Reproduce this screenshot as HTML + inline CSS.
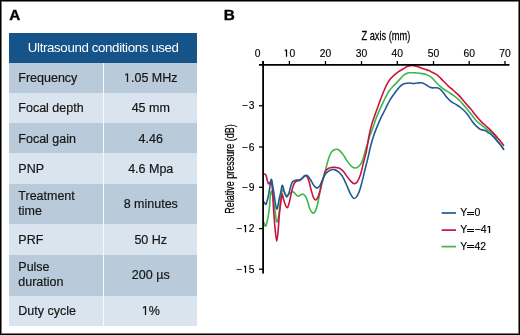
<!DOCTYPE html>
<html><head><meta charset="utf-8"><style>
*{margin:0;padding:0;box-sizing:border-box}
html,body{width:520px;height:335px;overflow:hidden;background:#fff}
body{position:relative;font-family:"Liberation Sans", sans-serif;}
.gs{position:absolute;left:0;top:0;width:520px;height:335px;will-change:transform}
.frame{position:absolute;left:0;top:0;width:520px;height:335px;border:1px solid #000;box-shadow:inset 0 0 0 1px #777;}
.frame2{position:absolute;right:0;bottom:0;width:520px;height:335px;border-right:2px solid #000;border-bottom:2px solid #000;}
.lab{position:absolute;font-weight:bold;font-size:15.3px;line-height:16px;color:#000;-webkit-text-stroke:0.35px #000}
.tbl{position:absolute;left:9px;top:33px;width:188px;height:292.6px}
.head{position:absolute;left:9px;top:33px;width:188px;height:29.6px;background:#165389;color:#fff;font-size:13.3px;line-height:29.6px;text-align:center;letter-spacing:-0.37px;text-indent:0.5px}
.row{position:absolute;left:9px;width:188px;font-size:12.5px;color:#161616;-webkit-text-stroke:0.2px #161616}
.lc{position:absolute;left:9.3px;top:0;bottom:0;display:flex;align-items:center;line-height:15px;padding-top:0.8px}
.rc{position:absolute;left:95.5px;right:0;top:0;bottom:0;display:flex;align-items:center;justify-content:center}
.sl{}
.sr{}
.vdiv{position:absolute;left:103.1px;top:62.6px;width:1.3px;height:263px;background:#f6f9fb}
svg{position:absolute;left:0;top:0}
.tk{font-family:"Liberation Sans", sans-serif;font-size:10.3px;fill:#000;stroke:#000;stroke-width:0.15px}
.ttl{font-family:"Liberation Sans", sans-serif;font-size:12.5px;fill:#000;stroke:#000;stroke-width:0.25px}
.one{fill:transparent;stroke:none}
.oneh{color:transparent;-webkit-text-stroke:0 transparent}
.lg{font-family:"Liberation Sans", sans-serif;font-size:10.5px;fill:#000;stroke:#000;stroke-width:0.15px}
</style></head><body>
<div class="gs">
<div class="lab" style="left:9.3px;top:7px">A</div>
<div class="lab" style="left:223.7px;top:7px">B</div>
<div class="head">Ultrasound conditions used</div>
<div class="row" style="top:62.6px;height:30.2px;background:#b9cbdb"><div class="lc" style="padding-top:2px"><span class="sl">Frequency</span></div><div class="rc" style="padding-top:0.7px"><span class="sr"><span class='oneh'>1</span>.05 MHz</span></div></div>
<div class="row" style="top:92.8px;height:30.2px;background:#dae4ee"><div class="lc" style="padding-top:2px"><span class="sl">Focal depth</span></div><div class="rc" style="padding-top:0.7px"><span class="sr">45 mm</span></div></div>
<div class="row" style="top:123.0px;height:30.4px;background:#b9cbdb"><div class="lc" style="padding-top:2px"><span class="sl">Focal gain</span></div><div class="rc" style="padding-top:0.7px"><span class="sr">4.46</span></div></div>
<div class="row" style="top:153.4px;height:30.3px;background:#dae4ee"><div class="lc" style="padding-top:2px"><span class="sl">PNP</span></div><div class="rc" style="padding-top:0.7px"><span class="sr">4.6 Mpa</span></div></div>
<div class="row" style="top:183.7px;height:40.7px;background:#b9cbdb"><div class="lc" style="padding-top:0.8px"><span class="sl">Treatment<br>time</span></div><div class="rc" style="padding-top:0.7px"><span class="sr">8 minutes</span></div></div>
<div class="row" style="top:224.4px;height:30.2px;background:#dae4ee"><div class="lc" style="padding-top:2px"><span class="sl">PRF</span></div><div class="rc" style="padding-top:0.7px"><span class="sr">50 Hz</span></div></div>
<div class="row" style="top:254.6px;height:41.1px;background:#b9cbdb"><div class="lc" style="padding-top:0px;top:-0.2px"><span class="sl">Pulse<br>duration</span></div><div class="rc" style="padding-top:0.7px"><span class="sr">200 &micro;s</span></div></div>
<div class="row" style="top:295.7px;height:29.9px;background:#dae4ee"><div class="lc" style="padding-top:2px"><span class="sl">Duty cycle</span></div><div class="rc" style="padding-top:0.7px"><span class="sr"><span class='oneh'>1</span>%</span></div></div>
<div class="vdiv"></div>
<svg width="520" height="335" viewBox="0 0 520 335">
<path d="M263.1 61V65" stroke="#000" stroke-width="1.3"/><text x="257.5" y="56.7" text-anchor="middle" class="tk">0</text><path d="M289.4 61V65" stroke="#000" stroke-width="1.3"/><text x="289.4" y="56.7" text-anchor="middle" class="tk"><tspan class='one'>1</tspan>0</text><path d="M325.5 61V65" stroke="#000" stroke-width="1.3"/><text x="325.5" y="56.7" text-anchor="middle" class="tk">20</text><path d="M361.5 61V65" stroke="#000" stroke-width="1.3"/><text x="361.5" y="56.7" text-anchor="middle" class="tk">30</text><path d="M397.3 61V65" stroke="#000" stroke-width="1.3"/><text x="397.3" y="56.7" text-anchor="middle" class="tk">40</text><path d="M433.5 61V65" stroke="#000" stroke-width="1.3"/><text x="433.5" y="56.7" text-anchor="middle" class="tk">50</text><path d="M469.2 61V65" stroke="#000" stroke-width="1.3"/><text x="469.2" y="56.7" text-anchor="middle" class="tk">60</text><path d="M505.0 61V65" stroke="#000" stroke-width="1.3"/><text x="505.0" y="56.7" text-anchor="middle" class="tk">70</text><path d="M259 105.75H263" stroke="#000" stroke-width="1.3"/><text x="254.4" y="109.3" text-anchor="end" class="tk"><tspan>−</tspan><tspan dx="1">3</tspan></text><path d="M259 147.0H263" stroke="#000" stroke-width="1.3"/><text x="254.4" y="150.6" text-anchor="end" class="tk"><tspan>−</tspan><tspan dx="1">6</tspan></text><path d="M259 187.3H263" stroke="#000" stroke-width="1.3"/><text x="254.4" y="190.9" text-anchor="end" class="tk"><tspan>−</tspan><tspan dx="1">9</tspan></text><path d="M259 228.6H263" stroke="#000" stroke-width="1.3"/><text x="254.4" y="232.2" text-anchor="end" class="tk"><tspan>−</tspan><tspan dx="1"><tspan class='one'>1</tspan>2</tspan></text><path d="M259 269.2H263" stroke="#000" stroke-width="1.3"/><text x="254.4" y="272.8" text-anchor="end" class="tk"><tspan>−</tspan><tspan dx="1"><tspan class='one'>1</tspan>5</tspan></text>
<text x="0" y="0" text-anchor="middle" class="ttl" transform="translate(385.9 40) scale(0.742 1)">Z axis (mm)</text>
<text transform="translate(234 169) rotate(-90) scale(0.72 1)" text-anchor="middle" class="ttl">Relative pressure (dB)</text>
<path d="M264.0 222.5C264.3 223.1 265.1 226.9 265.7 226.2C266.3 225.5 267.2 221.4 267.8 218.4C268.4 215.4 269.0 211.8 269.4 208.0C269.8 204.2 269.9 198.2 270.3 195.4C270.7 192.6 271.2 190.9 271.6 191.3C272.1 191.7 272.4 194.6 273.0 198.0C273.6 201.4 274.6 208.0 275.2 212.0C275.8 216.0 276.1 221.5 276.7 222.0C277.3 222.5 278.2 218.9 278.8 215.2C279.4 211.5 279.9 204.2 280.5 200.0C281.1 195.8 281.8 191.1 282.4 189.8C283.0 188.5 283.5 191.4 284.2 192.3C284.9 193.2 285.8 195.1 286.5 195.5C287.2 195.9 287.9 194.9 288.5 194.5C289.1 194.1 289.6 193.5 290.3 193.0C291.0 192.5 292.0 191.5 292.8 191.6C293.6 191.7 294.1 192.6 294.9 193.4C295.7 194.2 296.9 195.9 297.8 196.2C298.7 196.4 299.6 195.2 300.5 194.9C301.4 194.6 302.3 193.9 303.2 194.2C304.1 194.5 305.0 195.6 305.8 196.9C306.6 198.2 307.2 200.3 307.9 202.3C308.6 204.3 309.1 207.2 309.9 209.0C310.7 210.8 311.8 212.5 312.6 213.0C313.5 213.5 314.2 212.9 315.0 211.8C315.8 210.7 316.4 208.9 317.1 206.3C317.8 203.7 318.5 199.4 319.2 196.0C319.9 192.6 320.5 188.8 321.2 185.7C321.9 182.6 322.6 180.1 323.3 177.5C324.0 174.9 324.8 172.5 325.5 170.1C326.2 167.7 326.6 165.3 327.3 162.9C328.0 160.5 328.8 157.6 329.6 155.7C330.4 153.8 331.3 152.3 332.2 151.3C333.1 150.3 334.1 149.8 334.9 149.5C335.7 149.2 336.4 149.1 337.2 149.3C338.0 149.5 338.9 149.9 339.9 150.8C340.9 151.7 342.1 153.1 343.3 154.9C344.6 156.7 346.0 159.5 347.4 161.4C348.8 163.3 350.1 165.2 351.5 166.3C352.9 167.4 354.4 168.0 355.6 168.0C356.8 168.0 357.8 167.4 358.9 166.3C360.0 165.2 361.2 163.6 362.2 161.4C363.1 159.2 363.8 155.9 364.6 153.2C365.4 150.5 366.2 147.9 367.1 145.0C368.0 142.1 368.9 138.8 369.8 136.0C370.7 133.2 371.7 131.2 372.7 128.4C373.7 125.6 374.6 122.4 375.7 119.4C376.8 116.4 378.0 113.6 379.4 110.4C380.8 107.2 383.0 102.6 384.2 100.0C385.4 97.4 385.9 96.6 386.8 95.0C387.7 93.4 388.5 91.8 389.6 90.3C390.7 88.8 392.0 87.5 393.2 86.2C394.4 84.9 395.6 83.9 396.8 82.6C398.0 81.3 399.2 79.9 400.4 78.6C401.6 77.3 403.0 75.8 404.0 75.0C405.0 74.2 405.7 73.9 406.6 73.5C407.5 73.1 407.7 72.8 409.2 72.7C410.7 72.6 413.3 72.8 415.4 72.9C417.5 73.1 419.9 73.3 421.7 73.6C423.4 73.8 424.5 73.9 425.9 74.4C427.3 74.9 429.1 75.8 430.1 76.4C431.1 77.0 430.8 76.7 432.0 77.9C433.2 79.1 435.6 82.0 437.4 83.8C439.2 85.6 441.0 87.2 442.8 88.5C444.6 89.8 446.3 90.8 448.1 91.9C449.9 93.1 451.7 94.1 453.5 95.4C455.3 96.7 456.9 98.0 458.9 99.9C460.9 101.9 463.4 104.8 465.4 107.1C467.4 109.4 469.0 111.6 470.8 113.8C472.6 116.0 474.3 118.6 476.1 120.5C477.9 122.4 480.0 124.0 481.5 125.2C483.0 126.4 483.9 126.9 485.0 127.8C486.1 128.7 487.1 129.6 488.1 130.4C489.2 131.2 490.2 131.8 491.3 132.6C492.4 133.4 493.4 133.9 494.4 135.3C495.4 136.7 496.4 139.6 497.5 141.2C498.6 142.8 499.7 143.8 500.7 145.1C501.7 146.4 503.1 148.6 503.6 149.3" stroke="#3db64b" stroke-width="1.6" fill="none" stroke-linejoin="round" stroke-linecap="round"/>
<path d="M264.0 174.0C264.2 174.1 265.0 174.0 265.4 174.4C265.8 174.8 266.1 175.6 266.4 176.6C266.7 177.6 266.9 179.1 267.2 180.2C267.5 181.2 267.8 182.3 268.1 182.9C268.4 183.5 268.6 184.0 269.0 183.8C269.4 183.7 269.9 182.4 270.3 182.0C270.7 181.6 270.8 180.2 271.2 181.5C271.6 182.8 272.1 185.2 272.5 190.0C272.9 194.8 273.2 203.3 273.6 210.0C274.1 216.7 274.7 224.8 275.2 230.0C275.7 235.2 276.2 241.3 276.7 241.3C277.2 241.3 277.8 234.4 278.2 230.0C278.6 225.6 278.9 219.2 279.3 215.0C279.7 210.8 280.1 208.3 280.5 205.0C280.9 201.7 281.6 197.2 281.9 195.4C282.2 193.7 282.0 193.5 282.4 194.5C282.8 195.5 283.4 199.4 284.2 201.6C285.0 203.8 286.2 207.3 287.0 207.6C287.8 207.9 288.3 205.8 289.0 203.6C289.7 201.4 290.4 197.1 291.1 194.2C291.8 191.3 292.4 188.1 293.1 186.1C293.8 184.1 294.3 183.0 295.1 182.1C295.9 181.2 296.9 181.1 297.8 180.8C298.7 180.5 299.4 180.9 300.5 180.1C301.6 179.3 303.6 176.7 304.5 176.0C305.4 175.3 305.8 175.7 306.2 175.8C306.6 175.9 306.7 175.6 307.2 176.7C307.7 177.8 308.5 179.8 309.2 182.1C309.9 184.3 310.5 187.7 311.2 190.2C311.9 192.7 312.5 195.3 313.2 196.9C313.9 198.5 314.7 199.9 315.5 200.0C316.3 200.1 317.1 198.9 317.8 197.4C318.5 195.9 319.2 193.6 319.9 191.2C320.6 188.8 321.2 185.5 321.9 183.0C322.6 180.5 323.4 178.1 324.0 176.1C324.6 174.1 324.7 172.3 325.5 171.0C326.3 169.7 327.6 168.9 328.7 168.3C329.8 167.7 330.7 167.6 331.8 167.4C332.9 167.2 334.4 167.3 335.4 167.4C336.4 167.5 337.1 167.5 338.0 167.8C338.9 168.1 339.9 168.6 340.8 169.2C341.7 169.8 342.2 170.0 343.3 171.3C344.4 172.6 346.2 175.4 347.4 177.0C348.6 178.6 349.6 180.0 350.7 181.1C351.8 182.2 352.9 183.4 354.0 183.6C355.1 183.8 356.1 183.5 357.2 182.0C358.3 180.5 359.4 178.0 360.5 174.6C361.6 171.2 362.8 165.2 363.8 161.4C364.8 157.6 365.4 155.9 366.3 151.6C367.2 147.3 368.1 140.4 369.0 135.8C369.9 131.2 370.9 127.4 371.9 123.9C372.9 120.4 373.9 117.8 374.9 114.9C375.9 112.0 376.9 109.5 377.9 106.7C378.9 103.9 379.9 101.1 381.0 98.3C382.1 95.5 383.4 92.1 384.4 89.8C385.4 87.5 386.0 86.0 387.0 84.2C388.0 82.4 389.3 80.3 390.5 78.8C391.7 77.3 392.8 76.4 394.1 75.2C395.5 74.0 397.1 72.6 398.6 71.6C400.1 70.6 401.7 69.8 403.1 69.0C404.5 68.2 405.9 67.1 407.0 66.6C408.1 66.1 408.9 66.0 410.0 65.8C411.1 65.6 412.2 65.5 413.4 65.6C414.6 65.7 415.9 66.1 417.2 66.5C418.5 66.9 419.8 67.5 421.2 68.0C422.6 68.5 424.6 69.2 425.9 69.6C427.2 70.0 428.0 70.2 429.0 70.6C430.0 71.0 430.6 71.5 432.0 72.2C433.4 73.0 435.6 73.7 437.4 75.1C439.2 76.5 441.0 78.7 442.8 80.5C444.6 82.3 446.3 84.1 448.1 85.8C449.9 87.5 451.7 88.9 453.5 90.5C455.3 92.1 456.9 93.3 458.9 95.4C460.9 97.5 463.4 100.8 465.4 103.1C467.4 105.4 469.0 107.0 470.8 109.1C472.6 111.2 474.3 113.7 476.1 115.8C477.9 117.9 480.0 120.4 481.5 121.9C483.0 123.4 483.7 123.8 485.0 125.0C486.3 126.2 487.8 127.6 489.2 128.9C490.6 130.2 492.0 131.6 493.4 133.1C494.8 134.6 496.3 136.4 497.5 137.8C498.7 139.2 499.7 140.2 500.7 141.4C501.7 142.7 503.1 144.7 503.6 145.3" stroke="#c8143c" stroke-width="1.6" fill="none" stroke-linejoin="round" stroke-linecap="round"/>
<path d="M264.0 202.1C264.4 202.5 265.5 204.8 266.1 204.3C266.7 203.8 267.1 200.9 267.6 199.0C268.1 197.1 268.4 196.0 269.0 192.7C269.6 189.4 270.5 179.8 271.2 179.3C271.9 178.9 272.5 185.1 273.4 190.0C274.3 194.9 275.6 207.3 276.6 208.8C277.6 210.3 278.5 202.0 279.2 199.0C279.9 196.0 280.5 193.2 281.0 190.9C281.5 188.6 281.8 185.0 282.4 185.2C283.0 185.4 283.8 190.3 284.5 192.3C285.2 194.3 285.9 197.0 286.7 197.0C287.5 197.0 288.5 194.3 289.2 192.3C289.9 190.3 290.4 187.0 291.0 185.2C291.6 183.4 292.2 182.4 292.8 181.6C293.4 180.8 294.3 180.8 294.9 180.5C295.5 180.2 295.6 180.2 296.4 180.1C297.2 180.0 298.9 179.9 299.8 179.7C300.7 179.5 301.0 179.3 301.8 178.7C302.6 178.1 303.7 176.6 304.5 176.0C305.3 175.4 305.8 175.3 306.5 175.4C307.2 175.5 307.7 175.8 308.5 176.7C309.3 177.6 310.3 179.3 311.2 180.8C312.1 182.3 313.1 184.4 313.9 185.5C314.7 186.6 315.2 187.1 315.9 187.5C316.5 187.9 317.1 188.1 317.8 187.8C318.5 187.5 319.1 187.1 319.9 185.7C320.7 184.3 321.7 181.5 322.6 179.6C323.5 177.7 324.5 175.5 325.4 174.1C326.3 172.7 327.1 172.2 328.2 171.4C329.3 170.7 330.8 169.9 331.8 169.6C332.9 169.3 333.6 169.4 334.5 169.6C335.4 169.8 336.3 170.4 337.2 171.0C338.1 171.6 338.9 172.1 339.9 173.2C340.9 174.3 342.1 175.5 343.3 177.8C344.6 180.1 346.2 184.2 347.4 186.9C348.6 189.7 349.6 192.4 350.7 194.3C351.8 196.2 352.9 198.1 354.0 198.4C355.1 198.7 356.1 197.7 357.2 195.9C358.3 194.1 359.3 191.8 360.5 187.7C361.7 183.6 363.4 176.2 364.6 171.3C365.8 166.4 367.0 161.7 367.9 158.1C368.8 154.5 368.9 153.2 369.7 150.0C370.5 146.8 371.6 142.4 372.7 138.8C373.8 135.2 375.0 131.9 376.4 128.4C377.8 124.9 379.4 121.1 380.9 117.9C382.4 114.7 384.0 111.8 385.4 109.0C386.8 106.2 387.9 103.5 389.2 101.3C390.4 99.0 391.6 97.3 392.9 95.5C394.2 93.7 395.6 91.8 396.8 90.2C398.1 88.7 399.2 87.3 400.4 86.2C401.6 85.1 402.5 84.2 404.0 83.7C405.5 83.2 407.6 83.0 409.2 83.0C410.8 83.0 412.0 83.6 413.4 83.6C414.8 83.6 416.1 83.1 417.5 83.0C418.9 82.9 420.3 82.5 421.7 82.8C423.1 83.1 424.5 84.0 425.9 84.7C427.3 85.5 428.9 86.8 430.1 87.3C431.3 87.8 432.0 87.8 433.0 87.9C434.0 88.0 434.9 87.6 436.0 87.7C437.1 87.8 438.3 87.9 439.4 88.6C440.5 89.3 441.6 90.5 442.8 91.9C444.0 93.4 445.5 95.7 446.8 97.3C448.1 98.9 449.4 100.1 450.8 101.3C452.2 102.5 454.0 103.2 455.5 104.2C457.0 105.2 458.6 106.0 460.0 107.1C461.4 108.1 462.6 109.2 464.0 110.5C465.4 111.8 466.8 113.4 468.1 115.2C469.5 117.0 470.8 119.4 472.1 121.2C473.4 123.0 474.8 124.6 476.1 125.9C477.5 127.2 478.7 128.5 480.2 129.3C481.7 130.1 483.7 130.1 485.0 130.6C486.3 131.1 487.1 131.8 488.1 132.5C489.2 133.2 490.2 133.7 491.3 134.6C492.4 135.5 493.4 136.7 494.4 137.8C495.4 138.9 496.4 140.2 497.5 141.4C498.6 142.6 499.7 143.8 500.7 145.1C501.7 146.4 503.1 148.6 503.6 149.3" stroke="#1f5a94" stroke-width="1.6" fill="none" stroke-linejoin="round" stroke-linecap="round"/>

<path d="M259 64.9H509.5" stroke="#000" stroke-width="1.9" fill="none"/><path d="M263.1 61V273.5" stroke="#000" stroke-width="1.8" fill="none"/>
<path d="M441.6 213.0H456" stroke="#1f5a94" stroke-width="1.7"/><text x="460.3" y="216.2" class="lg">Y</text><path d="M467.1 212.5H474M467.1 214.5H474" stroke="#000" stroke-width="1"/><text x="474.5" y="216.2" class="lg">0</text><path d="M441.6 230.1H456" stroke="#c8143c" stroke-width="1.7"/><text x="460.3" y="233.1" class="lg">Y</text><path d="M467.1 229.5H474M467.1 231.5H474" stroke="#000" stroke-width="1"/><text x="474.5" y="233.1" class="lg">−4<tspan class='one'>1</tspan></text><path d="M441.6 246.6H456" stroke="#3db64b" stroke-width="1.7"/><text x="460.3" y="249.6" class="lg">Y</text><path d="M467.1 245.5H474M467.1 247.5H474" stroke="#000" stroke-width="1"/><text x="474.5" y="249.6" class="lg">42</text>
<path fill="#000" d="M285.88 56.70L285.88 50.48L284.66 51.62L284.66 50.77L285.05 49.61L287.12 49.61L287.12 56.70Z"/><path fill="#000" d="M244.88 232.20L244.88 225.98L243.92 227.12L243.92 226.27L244.05 225.11L246.12 225.11L246.12 232.20Z"/><path fill="#000" d="M244.88 272.80L244.88 266.58L243.92 267.72L243.92 266.87L244.05 265.71L246.12 265.71L246.12 272.80Z"/><path fill="#000" d="M488.88 233.10L488.88 226.76L487.49 227.92L487.49 227.05L488.03 225.88L490.12 225.88L490.12 233.10Z"/><path fill="#161616" d="M126.85 82.03L126.85 74.48L125.20 75.87L125.20 74.83L125.84 73.43L128.15 73.43L128.15 82.03Z"/><path fill="#161616" d="M144.85 314.97L144.85 307.42L142.91 308.80L142.91 307.77L143.84 306.37L146.15 306.37L146.15 314.97Z"/>
</svg>
</div>
<div class="frame"></div>
</body></html>
